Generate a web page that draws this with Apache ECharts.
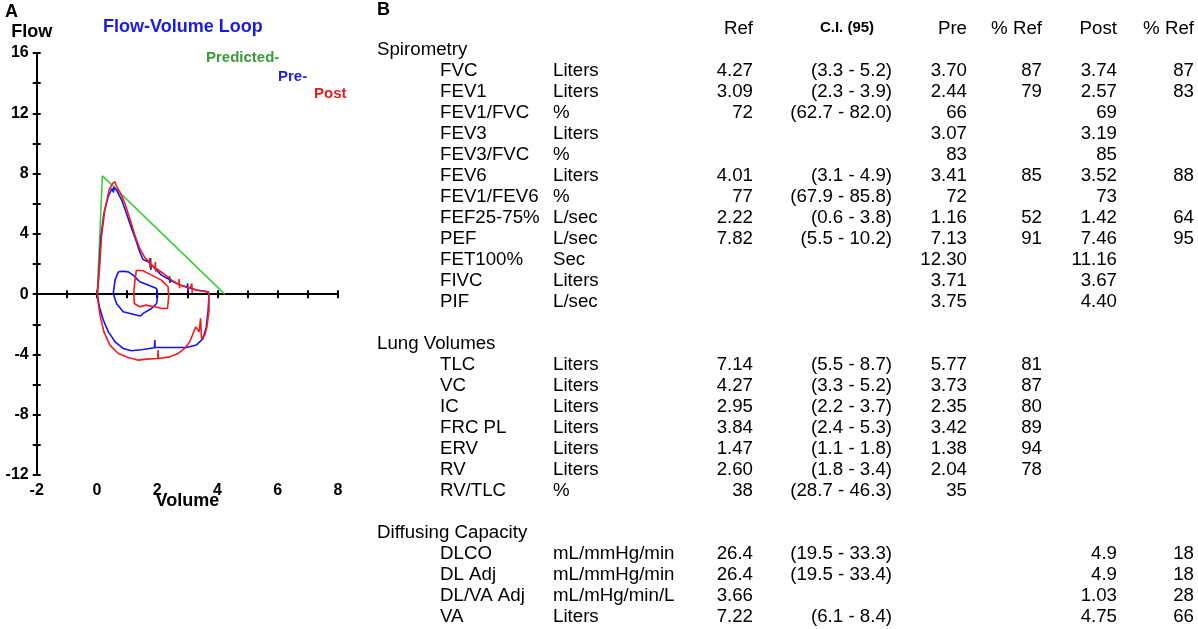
<!DOCTYPE html>
<html><head><meta charset="utf-8">
<script src="https://cdn.jsdelivr.net/npm/echarts@6/dist/echarts.min.js"></script>
<style>html,body{margin:0;padding:0;background:#fff}#c{width:1198px;height:629px}</style>
</head><body><div id="c"></div>
<script>
// ---------- Flow-volume loop data (Volume L, Flow L/s) ----------
const seriesNames = ['Predicted-', 'Pre-', 'Post'];
const predicted = [[0.01,0],[0.18,7.85],[4.24,0]];
const preLoop = [
  [0.01,0],[0.07,1.59],[0.13,3.8],[0.23,5.35],[0.37,6.46],[0.5,7.01],[0.54,7.13],[0.55,6.75],[0.56,7.1],
  [0.65,6.9],[0.82,6.24],[0.98,5.35],[1.15,4.36],[1.31,3.47],[1.42,2.8],[1.53,2.3],[1.7,2.15],
  [1.77,2.05],[1.78,2.4],[1.79,1.6],[1.8,1.95],[1.92,1.7],[2.14,1.26],[2.4,0.97],[2.41,1.2],[2.42,0.75],
  [2.43,0.92],[2.75,0.6],[3.0,0.47],[3.01,0.72],[3.02,0.2],[3.03,0.44],[3.3,0.27],[3.69,0.15],[3.72,0],
  [3.69,-1.06],[3.63,-2.17],[3.52,-2.94],[3.3,-3.38],[2.97,-3.54],[2.53,-3.54],[1.93,-3.54],[1.92,-3.05],
  [1.91,-3.56],[1.53,-3.67],[1.15,-3.76],[0.87,-3.6],[0.6,-3.16],[0.38,-2.5],[0.21,-1.72],[0.08,-0.84],[0.01,0]
];
const preTidal = [
  [0.71,1.48],[0.85,1.52],[1.04,1.48],[1.2,1.26],[1.42,0.82],[1.7,0.6],[1.98,0.38],[2.01,-0.18],
  [1.98,-0.62],[1.81,-0.95],[1.53,-1.28],[1.45,-1.45],[1.2,-1.33],[0.87,-1.17],[0.65,-0.62],
  [0.54,0.04],[0.6,0.93],[0.71,1.48]
];
const postLoop = [
  [0.01,0],[0.08,1.59],[0.15,3.8],[0.26,5.57],[0.4,6.9],[0.52,7.35],[0.6,7.46],[0.63,7.24],[0.76,6.79],
  [0.93,6.02],[1.09,5.02],[1.26,3.91],[1.42,3.03],[1.59,2.43],[1.74,2.1],[1.75,2.4],[1.76,1.75],
  [1.77,2.0],[1.93,1.75],[1.94,2.15],[1.95,1.5],[1.98,1.7],[2.2,1.37],[2.48,0.93],[2.72,0.65],
  [2.73,1.0],[2.74,0.4],[2.75,0.6],[3.08,0.38],[3.14,0.4],[3.15,0.7],[3.16,0.1],[3.17,0.35],[3.41,0.22],
  [3.69,0.15],[3.71,0],[3.72,-1.06],[3.65,-2.17],[3.58,-2.72],[3.47,-2.94],[3.44,-1.61],[3.39,-2.5],
  [3.28,-2.17],[3.19,-2.61],[3.08,-3.16],[2.91,-3.6],[2.69,-3.94],[2.42,-4.16],[2.04,-4.27],[2.03,-3.7],
  [2.02,-4.27],[1.64,-4.31],[1.37,-4.38],[1.04,-4.2],[0.71,-3.94],[0.43,-3.38],[0.23,-2.5],[0.1,-1.39],
  [0.03,-0.4],[0.01,0]
];
const postTidal = [
  [1.31,1.59],[1.53,1.55],[1.81,1.26],[2.14,0.93],[2.36,0.49],[2.38,-0.18],[2.34,-0.95],[2.14,-0.95],
  [1.92,-0.84],[1.64,-0.73],[1.42,-0.84],[1.24,-0.62],[1.22,0.04],[1.26,0.93],[1.31,1.59]
];

// ---------- Table data ----------
const headers = ['Ref', 'C.I. (95)', 'Pre', '% Ref', 'Post', '% Ref'];
const sections = ['Spirometry', 'Lung Volumes', 'Diffusing Capacity'];
const sectionSizes = [12, 7, 4];
const paramNames = ['FVC','FEV1','FEV1/FVC','FEV3','FEV3/FVC','FEV6','FEV1/FEV6','FEF25-75%','PEF','FET100%','FIVC','PIF',
  'TLC','VC','IC','FRC PL','ERV','RV','RV/TLC',
  'DLCO','DL Adj','DL/VA Adj','VA'];
const units = ['Liters','Liters','%','Liters','%','Liters','%','L/sec','L/sec','Sec','Liters','L/sec',
  'Liters','Liters','Liters','Liters','Liters','Liters','%',
  'mL/mmHg/min','mL/mmHg/min','mL/mHg/min/L','Liters'];
const refValues = ['4.27','3.09','72','','','4.01','77','2.22','7.82','','','',
  '7.14','4.27','2.95','3.84','1.47','2.60','38',
  '26.4','26.4','3.66','7.22'];
const ciValues = ['(3.3 - 5.2)','(2.3 - 3.9)','(62.7 - 82.0)','','','(3.1 - 4.9)','(67.9 - 85.8)','(0.6 - 3.8)','(5.5 - 10.2)','','','',
  '(5.5 - 8.7)','(3.3 - 5.2)','(2.2 - 3.7)','(2.4 - 5.3)','(1.1 - 1.8)','(1.8 - 3.4)','(28.7 - 46.3)',
  '(19.5 - 33.3)','(19.5 - 33.4)','','(6.1 - 8.4)'];
const preValues = ['3.70','2.44','66','3.07','83','3.41','72','1.16','7.13','12.30','3.71','3.75',
  '5.77','3.73','2.35','3.42','1.38','2.04','35',
  '','','',''];
const prePctRef = ['87','79','','','','85','','52','91','','','',
  '81','87','80','89','94','78','',
  '','','',''];
const postValues = ['3.74','2.57','69','3.19','85','3.52','73','1.42','7.46','11.16','3.67','4.40',
  '','','','','','','',
  '4.9','4.9','1.03','4.75'];
const postPctRef = ['87','83','','','','88','','64','95','','','',
  '','','','','','','',
  '18','18','28','66'];

// ---------- Build table graphics ----------
const FONT = '18.7px "Liberation Sans", Arial, sans-serif';
const ROW_H = 21, ROW0_Y = 71;
const colRight = [753, null, 967, 1042, 1117, 1194];
const els = [];
function txt(x, y, text, align, font, color) {
  if (text === '' || text == null) return;
  els.push({type:'text', x:x, y:y, silent:true,
    style:{text:text, font:font || FONT, fill:color || '#000', align:align, verticalAlign:'middle'}});
}
// panel letters
txt(5, 12, 'A', 'left', 'bold 18px "Liberation Sans", Arial, sans-serif');
txt(377, 10, 'B', 'left', 'bold 18px "Liberation Sans", Arial, sans-serif');
// headers
const headerY = ROW0_Y - 2 * ROW_H;
headers.forEach((h, i) => {
  if (i === 1) txt(847, headerY - 1, h, 'center', 'bold 15px "Liberation Sans", Arial, sans-serif');
  else txt(colRight[i], headerY, h, 'right');
});
let rowIdx = 0, dataIdx = 0;
sections.forEach((s, si) => {
  if (si > 0) rowIdx += 1; // blank spacer row
  txt(377, ROW0_Y + (rowIdx - 1) * ROW_H, s, 'left');
  for (let k = 0; k < sectionSizes[si]; k++) {
    const y = ROW0_Y + rowIdx * ROW_H;
    const d = dataIdx;
    txt(440, y, paramNames[d], 'left');
    txt(553, y, units[d], 'left');
    txt(753, y, refValues[d], 'right');
    txt(892, y, ciValues[d], 'right');
    txt(967, y, preValues[d], 'right');
    txt(1042, y, prePctRef[d], 'right');
    txt(1117, y, postValues[d], 'right');
    txt(1194, y, postPctRef[d], 'right');
    rowIdx++; dataIdx++;
  }
  rowIdx += 1; // heading row of next section
});

// ---------- Chart ----------
const chart = echarts.init(document.getElementById('c'), null, {renderer:'canvas'});
const BOLD16 = {fontSize:16, fontWeight:'bold', color:'#000', fontFamily:'"Liberation Sans", Arial, sans-serif'};
const BLUE = '#1414f0', RED = '#f21c1c', GREEN = '#3ccf3c';
const lineS = (name, data, color) => ({
  type:'line', name:name, data:data, showSymbol:false, symbol:'none', smooth:false,
  lineStyle:{color:color, width:1.6}, itemStyle:{color:color}, silent:true, z:3
});
const legendBase = {orient:'horizontal', padding:0, itemWidth:0, itemHeight:14, icon:'rect',
  selectedMode:false, itemStyle:{opacity:0}, lineStyle:{opacity:0}};
chart.setOption({
  animation:false,
  backgroundColor:'#fff',
  graphic:{elements:els},
  title:{text:'Flow-Volume Loop', left:103, top:18, padding:0,
    textStyle:{color:'#1a1ae6', fontSize:18, fontWeight:'bold', fontFamily:'"Liberation Sans", Arial, sans-serif'}},
  legend:[
    Object.assign({}, legendBase, {data:[seriesNames[0]], left:201, top:50,
      textStyle:{color:'#3a9a3a', fontSize:15, fontWeight:'bold', fontFamily:'"Liberation Sans", Arial, sans-serif'}}),
    Object.assign({}, legendBase, {data:[seriesNames[1]], left:273, top:69,
      textStyle:{color:'#2020e0', fontSize:15, fontWeight:'bold', fontFamily:'"Liberation Sans", Arial, sans-serif'}}),
    Object.assign({}, legendBase, {data:[seriesNames[2]], left:309, top:86,
      textStyle:{color:'#e02020', fontSize:15, fontWeight:'bold', fontFamily:'"Liberation Sans", Arial, sans-serif'}})
  ],
  grid:{left:36.7, top:53, width:301.3, height:422, containLabel:false},
  xAxis:[
    {type:'value', min:-2, max:8, interval:1, position:'bottom',
      name:'Volume', nameLocation:'middle', nameGap:17, nameMoveOverlap:false,
      nameTextStyle:{fontSize:18, fontWeight:'bold', color:'#000', fontFamily:'"Liberation Sans", Arial, sans-serif'},
      axisLine:{show:false, onZero:false}, axisTick:{show:false}, splitLine:{show:false},
      axisLabel:Object.assign({margin:8, formatter:v => (v % 2 === 0 ? String(v) : '')}, BOLD16)},
    {type:'value', min:-2, max:8, interval:1, position:'bottom',
      axisLine:{show:true, onZero:true, lineStyle:{color:'#000', width:2}},
      axisTick:{show:true, inside:false, length:4, lineStyle:{color:'#000', width:2}},
      axisLabel:{show:false}, splitLine:{show:false}},
    {type:'value', min:-2, max:8, interval:1, position:'bottom',
      axisLine:{show:false, onZero:true},
      axisTick:{show:true, inside:true, length:4, lineStyle:{color:'#000', width:2}},
      axisLabel:{show:false}, splitLine:{show:false}}
  ],
  yAxis:[
    {type:'value', min:-12, max:16, interval:2, position:'left',
      name:'Flow', nameLocation:'end', nameGap:12, nameMoveOverlap:false,
      nameTextStyle:{fontSize:18, fontWeight:'bold', color:'#000', padding:[0,10,0,0], fontFamily:'"Liberation Sans", Arial, sans-serif'},
      axisLine:{show:true, onZero:false, lineStyle:{color:'#000', width:2}},
      axisTick:{show:true, inside:false, length:4, lineStyle:{color:'#000', width:2}},
      axisLabel:Object.assign({margin:8, formatter:v => (v % 4 === 0 ? String(v) : '')}, BOLD16),
      splitLine:{show:false}},
    {type:'value', min:-12, max:16, interval:2, position:'left',
      axisLine:{show:false, onZero:false},
      axisTick:{show:true, inside:true, length:4, lineStyle:{color:'#000', width:2}},
      axisLabel:{show:false}, splitLine:{show:false}}
  ],
  series:[
    lineS(seriesNames[0], predicted, GREEN),
    lineS(seriesNames[1], preLoop, BLUE),
    lineS(seriesNames[1], preTidal, BLUE),
    lineS(seriesNames[2], postLoop, RED),
    lineS(seriesNames[2], postTidal, RED)
  ]
});
</script></body></html>
